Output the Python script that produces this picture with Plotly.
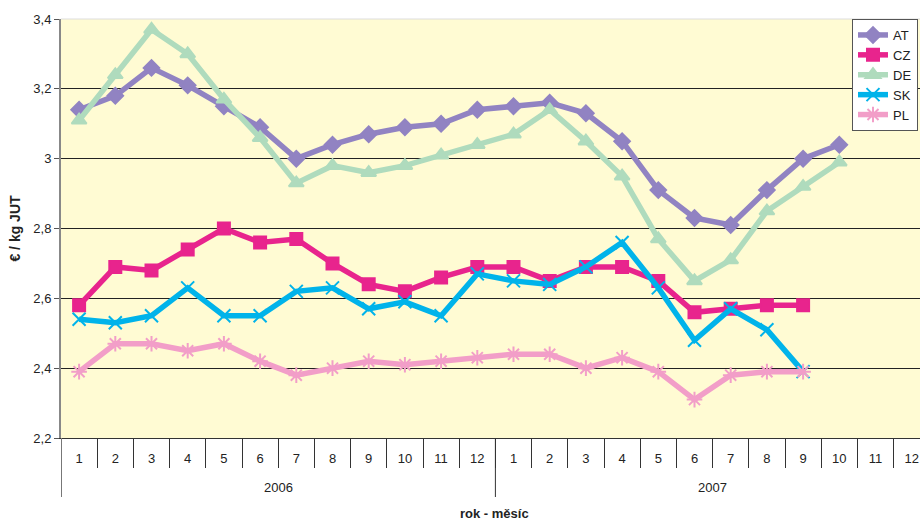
import plotly.graph_objects as go

years = ["2006", "2007"]
months = [str(m) for m in range(1, 13)]
categories = [f"{y}-{m}" for y in years for m in months]
month_labels = months * 2

AT = [3.14, 3.18, 3.26, 3.21, 3.15, 3.09, 3.00, 3.04, 3.07, 3.09, 3.10, 3.14,
      3.15, 3.16, 3.13, 3.05, 2.91, 2.83, 2.81, 2.91, 3.00, 3.04]
CZ = [2.58, 2.69, 2.68, 2.74, 2.80, 2.76, 2.77, 2.70, 2.64, 2.62, 2.66, 2.69,
      2.69, 2.65, 2.69, 2.69, 2.65, 2.56, 2.57, 2.58, 2.58]
DE = [3.11, 3.24, 3.37, 3.30, 3.17, 3.06, 2.93, 2.98, 2.96, 2.98, 3.01, 3.04,
      3.07, 3.14, 3.05, 2.95, 2.77, 2.65, 2.71, 2.85, 2.92, 2.99]
SK = [2.54, 2.53, 2.55, 2.63, 2.55, 2.55, 2.62, 2.63, 2.57, 2.59, 2.55, 2.67,
      2.65, 2.64, 2.69, 2.76, 2.63, 2.48, 2.57, 2.51, 2.39]
PL = [2.39, 2.47, 2.47, 2.45, 2.47, 2.42, 2.38, 2.40, 2.42, 2.41, 2.42, 2.43,
      2.44, 2.44, 2.40, 2.43, 2.39, 2.31, 2.38, 2.39, 2.39]

series = [
    ("AT", AT, "#9183c2", "diamond", 12),
    ("CZ", CZ, "#e8248d", "square", 12),
    ("DE", DE, "#afdbbd", "triangle-up", 13),
    ("SK", SK, "#00b3ea", "x-thin-open", 13),
    ("PL", PL, "#f29ec8", "asterisk-open", 13),
]

FONT = "Liberation Sans, Arial, sans-serif"
TXT = "#222222"

fig = go.Figure()
for name, vals, color, sym, size in series:
    n = len(vals)
    fig.add_trace(go.Scatter(
        x=categories[:n], y=vals, name=name, mode="lines+markers",
        line=dict(color=color, width=5.5),
        marker=dict(symbol=sym, size=size, color=color,
                    line=dict(color=color, width=2)),
    ))

W, H = 920, 520
ML, MT, MB = 61, 19, 82
plot_w = W - ML
plot_h = H - MT - MB
# the original plot area runs past the right edge of the picture (cut off)
cat_px = 36.2
x_max = -0.5 + plot_w / cat_px

fig.update_layout(
    width=W, height=H,
    margin=dict(l=ML, r=0, t=MT, b=MB, autoexpand=False),
    paper_bgcolor="white",
    plot_bgcolor="#fffbd3",
    separators=", ",
    font=dict(family=FONT, size=13, color=TXT),
    showlegend=True,
    legend=dict(x=(852 - ML) / plot_w, y=1.0, xanchor="left", yanchor="top",
                bgcolor="white", bordercolor="#555", borderwidth=1,
                font=dict(size=13), tracegroupgap=0, itemwidth=30),
    xaxis=dict(
        type="category", categoryorder="array", categoryarray=categories,
        range=[-0.5, x_max],
        tickmode="array", tickvals=categories, ticktext=month_labels,
        tickson="boundaries",
        showgrid=False,
        showline=True, linecolor="#333", linewidth=1,
        ticks="outside", ticklen=29, tickcolor="#333", tickwidth=1,
        ticklabelstandoff=8,
        tickfont=dict(size=13, color=TXT),
    ),
    yaxis=dict(
        range=[2.2, 3.4], dtick=0.2, tick0=2.2,
        showgrid=True, gridcolor="#222", gridwidth=1,
        showline=True, linecolor="#888", linewidth=2,
        ticks="outside", ticklen=5, tickcolor="#555",
        tickfont=dict(size=13, color=TXT),
        zeroline=False,
        title=dict(text="<b>€ / kg JUT</b>", font=dict(size=14, color=TXT), standoff=9),
    ),
)

# top border of the plot area
fig.add_shape(type="line", xref="paper", yref="paper", x0=0, x1=1, y0=1, y1=1,
              line=dict(color="#dddddd", width=1))

# year dividers and year labels under the month labels
for k, yr in enumerate(years):
    start = k * len(months) - 0.5
    fig.add_shape(type="line", xref="x", yref="paper",
                  x0=start, x1=start, y0=0, y1=-59 / plot_h,
                  line=dict(color="#777" if k == 0 else "#333", width=2 if k == 0 else 1))
    fig.add_annotation(x=start + len(months) / 2, xref="x", y=0, yref="paper",
                       yshift=-49, yanchor="middle", text=yr, showarrow=False,
                       font=dict(size=13, color=TXT))

fig.add_annotation(x=(494 - ML) / plot_w, xref="paper", y=0, yref="paper", yshift=-75,
                   yanchor="middle", text="<b>rok - měsíc</b>", showarrow=False,
                   font=dict(size=13, color=TXT))

# remove the default 8px page margin so the 920x520 figure fills the window
fig.write_html("out.html", config={"displayModeBar": False},
               post_script="document.body.style.margin='0';")
